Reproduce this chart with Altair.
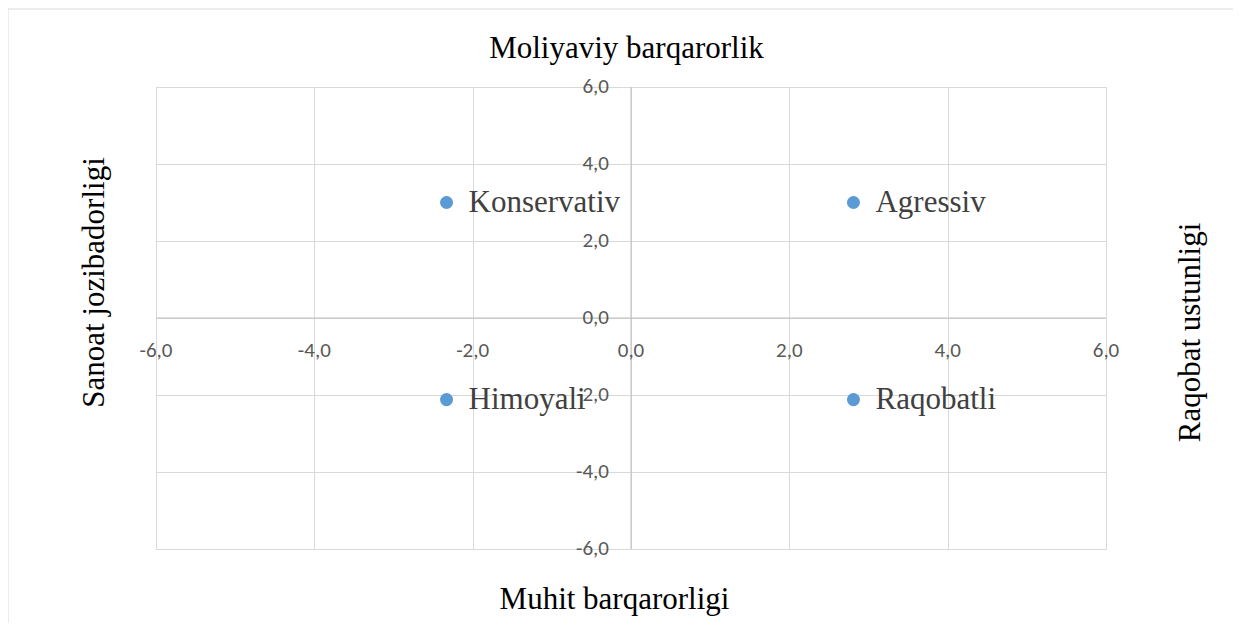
import altair as alt
import pandas as pd

# Data
names = ["Konservativ", "Agressiv", "Himoyali", "Raqobatli"]
x_vals = [-2.33, 2.81, -2.33, 2.81]
y_vals = [3.0, 3.0, -2.12, -2.12]
ticks = [-6, -4, -2, 0, 2, 4, 6]

df = pd.DataFrame({"name": names, "x": x_vals, "y": y_vals})
tick_df = pd.DataFrame({"v": ticks})
one = pd.DataFrame({"k": [0]})

W, H = 950, 462
SERIF = "Liberation Serif"
SANS = "Carlito, Lato"

xs = alt.Scale(domain=[-6, 6], nice=False, zero=False)
ys = alt.Scale(domain=[-6, 6], nice=False, zero=False)

grid_axis_x = alt.Axis(values=ticks, grid=True, gridColor="#d9d9d9", gridWidth=1,
                       labels=False, ticks=False, domain=False,
                       title="Muhit barqarorligi", titleFont=SERIF, titleFontSize=31,
                       titleFontWeight="normal", titleColor="#000000",
                       titleBaseline="alphabetic", titleAlign="center",
                       titleX=458, titleY=59)
grid_axis_y = alt.Axis(values=ticks, grid=True, gridColor="#d9d9d9", gridWidth=1,
                       labels=False, ticks=False, domain=False,
                       title="Sanoat jozibadorligi", titleFont=SERIF, titleFontSize=31,
                       titleFontWeight="normal", titleColor="#000000",
                       titleAngle=270, titleBaseline="alphabetic", titleAlign="center",
                       titleX=-53, titleY=195)
top_axis = alt.Axis(orient="top", grid=False, labels=False, ticks=False, domain=False,
                    title="Moliyaviy barqarorlik", titleFont=SERIF, titleFontSize=31,
                    titleFontWeight="normal", titleColor="#000000",
                    titleBaseline="alphabetic", titleAlign="center",
                    titleX=470, titleY=-30)
right_axis = alt.Axis(orient="right", grid=False, labels=False, ticks=False, domain=False,
                      title="Raqobat ustunligi", titleFont=SERIF, titleFontSize=31,
                      titleFontWeight="normal", titleColor="#000000",
                      titleAngle=270, titleBaseline="alphabetic", titleAlign="center",
                      titleX=93, titleY=245)

grid_layer = alt.Chart(df).mark_point(opacity=0).encode(
    x=alt.X("x:Q", scale=xs, axis=grid_axis_x),
    y=alt.Y("y:Q", scale=ys, axis=grid_axis_y),
)
title_layer = alt.Chart(df).mark_point(opacity=0).encode(
    x=alt.X("x:Q", scale=xs, axis=top_axis),
    y=alt.Y("y:Q", scale=ys, axis=right_axis),
)

zero_v = alt.Chart(one).mark_rule(color="#bfbfbf", strokeWidth=1).encode(
    x=alt.X("k:Q", scale=xs, axis=None)
)
zero_h = alt.Chart(one).mark_rule(color="#bfbfbf", strokeWidth=1).encode(
    y=alt.Y("k:Q", scale=ys, axis=None)
)

lbl_expr = "replace(replace(format(datum.v, '.1f'), '.', ','), '\u2212', '-')"
xticks = alt.Chart(tick_df).transform_calculate(lbl=lbl_expr).mark_text(
    font=SANS, fontSize=21, color="#595959", align="center", baseline="middle", dy=33
).encode(
    x=alt.X("v:Q", scale=xs, axis=None),
    y=alt.YDatum(0, scale=ys, axis=None),
    text="lbl:N",
)
yticks = alt.Chart(tick_df).transform_calculate(lbl=lbl_expr).mark_text(
    font=SANS, fontSize=21, color="#595959", align="right", baseline="middle", dx=-22
).encode(
    y=alt.Y("v:Q", scale=ys, axis=None),
    x=alt.XDatum(0, scale=xs, axis=None),
    text="lbl:N",
)

points = alt.Chart(df).mark_circle(size=170, color="#5B9BD5", opacity=1).encode(
    x=alt.X("x:Q", scale=xs, axis=None),
    y=alt.Y("y:Q", scale=ys, axis=None),
)
labels = alt.Chart(df).mark_text(
    font=SERIF, fontSize=31, color="#404040", align="left", baseline="middle", dx=22
).encode(
    x=alt.X("x:Q", scale=xs, axis=None),
    y=alt.Y("y:Q", scale=ys, axis=None),
    text="name:N",
)

frame_top = alt.Chart(one).mark_rule(color="#d9d9d9", strokeWidth=1).encode(
    x=alt.value(-148), x2=alt.value(1077), y=alt.value(-78)
)
frame_left = alt.Chart(one).mark_rule(color="#d9d9d9", strokeWidth=1).encode(
    x=alt.value(-148), y=alt.value(-78), y2=alt.value(536)
)

chart = alt.layer(
    grid_layer, title_layer, frame_top, frame_left, zero_v, zero_h,
    xticks, yticks, points, labels
).resolve_axis(x="independent", y="independent").properties(
    width=W, height=H,
    autosize=alt.AutoSizeParams(type="none"),
    padding={"left": 148, "top": 79, "right": 127, "bottom": 74},
).configure_view(stroke=None).configure(background="white")

chart.save("out.html", embed_options={"renderer": "svg", "actions": False})
